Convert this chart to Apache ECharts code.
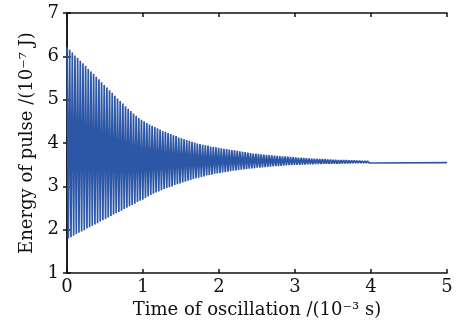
<!DOCTYPE html>
<html>
<head>
<meta charset="utf-8">
<script src="https://cdn.jsdelivr.net/npm/echarts@6/dist/echarts.min.js"></script>
<style>
html,body{margin:0;padding:0;background:#fff;}
#chart{width:465px;height:324px;}
</style>
</head>
<body>
<div id="chart"></div>
<script>
// ---- Data ----
// Peak (upper) and trough (lower) energies of each oscillation, 10^-7 J
var peakHigh = [
6.21,6.15,6.09,6.02,5.96,5.90,5.84,5.78,5.71,5.65,5.59,5.53,5.47,5.40,5.34,5.28,5.22,5.16,5.09,5.03,
4.97,4.91,4.85,4.79,4.74,4.68,4.63,4.58,4.54,4.50,4.46,4.43,4.40,4.37,4.34,4.31,4.28,4.26,4.23,4.21,
4.18,4.16,4.13,4.11,4.09,4.07,4.05,4.03,4.01,3.99,3.98,3.96,3.95,3.94,3.92,3.91,3.90,3.89,3.88,3.87,
3.86,3.85,3.84,3.83,3.82,3.81,3.80,3.79,3.78,3.77,3.76,3.755,3.75,3.74,3.735,3.73,3.72,3.715,3.71,3.705,
3.70,3.695,3.69,3.685,3.68,3.675,3.67,3.665,3.66,3.655,3.65,3.645,3.64,3.64,3.635,3.63,3.63,3.625,3.62,3.62,
3.615,3.615,3.61,3.61,3.605,3.605,3.60,3.60,3.60,3.595,3.595,3.59,3.59,3.59,3.585,3.585
];
var peakLow = [
1.80,1.83,1.86,1.90,1.93,1.96,1.99,2.03,2.06,2.09,2.12,2.15,2.19,2.22,2.25,2.28,2.32,2.35,2.38,2.41,
2.44,2.48,2.51,2.54,2.57,2.60,2.64,2.67,2.69,2.73,2.77,2.80,2.83,2.86,2.88,2.91,2.94,2.96,2.98,3.00,
3.03,3.05,3.07,3.09,3.11,3.13,3.15,3.17,3.19,3.20,3.22,3.23,3.25,3.26,3.27,3.29,3.30,3.31,3.32,3.33,
3.34,3.35,3.36,3.37,3.38,3.385,3.39,3.40,3.41,3.415,3.42,3.43,3.435,3.44,3.445,3.45,3.455,3.46,3.465,3.47,
3.475,3.48,3.485,3.49,3.49,3.495,3.50,3.50,3.505,3.505,3.51,3.51,3.51,3.515,3.515,3.515,3.52,3.52,3.52,3.52,
3.525,3.525,3.525,3.53,3.53,3.53,3.53,3.535,3.535,3.535,3.535,3.54,3.54,3.54,3.54,3.54
];
var oscPeriod = 0.035;      // 10^-3 s between successive peaks
var restLevel = 3.55;       // settled energy after oscillation stops
var endTime = 5;            // 10^-3 s
var xTicks = [0,1,2,3,4,5];
var yTicks = [1,2,3,4,5,6,7];

// ---- Build series ----
var pts = [];
for (var i = 0; i < peakHigh.length; i++) {
  pts.push([i * oscPeriod, peakHigh[i]]);
  pts.push([i * oscPeriod + oscPeriod / 2, peakLow[i]]);
}
var lastT = (peakHigh.length) * oscPeriod;
pts.push([lastT, restLevel]);
pts.push([endTime, restLevel]);

var font = '"DejaVu Serif", "Liberation Serif", serif';
var axisLine = {show: true, lineStyle: {color: '#111', width: 1.5}};
var tick = {show: true, inside: true, length: 4, lineStyle: {color: '#111', width: 1.5}};

var chart = echarts.init(document.getElementById('chart'), null, {renderer: 'canvas'});
chart.setOption({
  animation: false,
  backgroundColor: '#ffffff',
  grid: {left: 67, right: 18, top: 13, bottom: 49},
  xAxis: [{
    type: 'value', min: xTicks[0], max: xTicks[xTicks.length - 1], interval: 1,
    axisLine: axisLine, axisTick: tick, splitLine: {show: false},
    axisLabel: {color: '#111', fontFamily: font, fontSize: 18, margin: 5},
    name: 'Time of oscillation /(10\u207B\u00B3 s)', nameLocation: 'middle', nameGap: 27,
    nameTextStyle: {color: '#111', fontFamily: font, fontSize: 18}
  }, {
    type: 'value', position: 'top', min: 0, max: 5, interval: 1,
    axisLine: axisLine, axisTick: tick, splitLine: {show: false}, axisLabel: {show: false}
  }],
  yAxis: [{
    type: 'value', min: yTicks[0], max: yTicks[yTicks.length - 1], interval: 1,
    axisLine: axisLine, axisTick: tick, splitLine: {show: false},
    axisLabel: {color: '#111', fontFamily: font, fontSize: 18, margin: 8},
    name: 'Energy of pulse /(10\u207B\u2077 J)', nameLocation: 'middle', nameGap: 30, nameRotate: 90,
    nameTextStyle: {color: '#111', fontFamily: font, fontSize: 18}
  }, {
    type: 'value', position: 'right', min: 1, max: 7, interval: 1,
    axisLine: axisLine, axisTick: tick, splitLine: {show: false}, axisLabel: {show: false}
  }],
  series: [{
    type: 'line', xAxisIndex: 0, yAxisIndex: 0,
    data: pts, showSymbol: false, symbol: 'none', sampling: null,
    lineStyle: {color: '#2c56a6', width: 1.7}
  }]
});
</script>
</body>
</html>
